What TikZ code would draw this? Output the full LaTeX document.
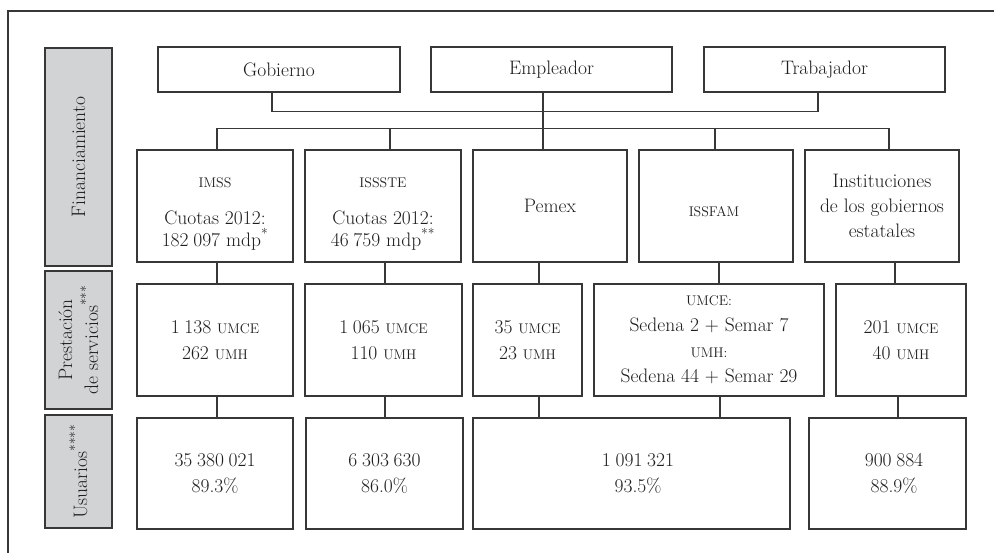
\documentclass[tikz,border=0pt]{standalone}
\usepackage{fontspec}
\definecolor{linecol}{RGB}{55,55,55}
\definecolor{txtcol}{RGB}{30,30,30}
\definecolor{labgray}{RGB}{210,211,213}
\newcommand\scx[1]{{\fontsize{14}{14}\selectfont #1}}
\newcommand\gs{\hspace{0.24em}}
\tikzset{
  bx/.style={draw=linecol, line width=1.2pt, fill=white, inner sep=0pt, align=center, text=txtcol, font=\fontsize{19.5}{26}\selectfont},
  lab/.style={bx, fill=labgray},
  txt/.style={inner sep=0pt, align=center, text=txtcol, font=\fontsize{19.5}{22}\selectfont},
  conn/.style={draw=linecol, line width=1.2pt},
  frame/.style={draw=linecol, line width=1.3pt},
}
\begin{document}
\begin{tikzpicture}[x=1pt,y=-1pt]
\useasboundingbox (0,0) rectangle (994,553);
\draw[frame] (8,560) -- (8,11) -- (1000,11);

% side labels
\node[lab, rotate=90, minimum width=218pt, minimum height=67pt] (fin) at (78.5,157) {Financiamiento};
\node[lab, rotate=90, minimum width=138pt, minimum height=67pt] (pres) at (78.5,340) {Prestación\\de servicios\textsuperscript{***}};
\node[lab, rotate=90, minimum width=113pt, minimum height=67pt] (usu) at (78.5,471.5) {Usuarios\textsuperscript{****}};

% top row
\node[bx, minimum width=242pt, minimum height=45pt] (gob) at (279,69.5) {Gobierno};
\node[bx, minimum width=241pt, minimum height=45pt] (emp) at (551.5,69.5) {Empleador};
\node[bx, minimum width=241pt, minimum height=45pt] (trab) at (824.5,69.5) {Trabajador};

% row 2
\node[bx, minimum width=156pt, minimum height=112pt] (imss2) at (215,206) {};
\node[txt] (imss2t) at (215,213.6) {\scx{IMSS}\\[15pt]Cuotas 2012:\\182\gs 097 mdp\textsuperscript{*}};
\node[bx, minimum width=156pt, minimum height=112pt] (issste2) at (383,206) {};
\node[txt] (issste2t) at (383,213.6) {\scx{ISSSTE}\\[15pt]Cuotas 2012:\\46\gs 759 mdp\textsuperscript{**}};
\node[bx, minimum width=154pt, minimum height=112pt] (pemex2) at (550,206) {Pemex};
\node[bx, minimum width=154pt, minimum height=112pt] (issfam2) at (716,206) {};
\node[txt] (issfam2t) at (714,212) {\scx{ISSFAM}};
\node[bx, minimum width=154pt, minimum height=112pt, font=\fontsize{19.5}{25}\selectfont] (inst2) at (882,206) {Instituciones\\de los gobiernos\\estatales};

% row 3
\node[bx, minimum width=156pt, minimum height=112pt] (imss3) at (215,340) {1\gs 138 \scx{UMCE}\\262 \scx{UMH}};
\node[bx, minimum width=157pt, minimum height=112pt] (issste3) at (383.5,340) {1\gs 065 \scx{UMCE}\\110 \scx{UMH}};
\node[bx, minimum width=109pt, minimum height=112pt] (pemex3) at (527.5,340) {35 \scx{UMCE}\\23 \scx{UMH}};
\node[bx, minimum width=230pt, minimum height=112pt, font=\fontsize{19.5}{25.7}\selectfont] (issfam3) at (709,340) {\scx{UMCE:}\\Sedena 2 + Semar 7\\\scx{UMH:}\\Sedena 44 + Semar 29};
\node[bx, minimum width=130pt, minimum height=112pt] (inst3) at (901,340) {201 \scx{UMCE}\\40 \scx{UMH}};

% row 4
\node[bx, minimum width=156pt, minimum height=111pt] (imss4) at (215,473.5) {35\gs 380\gs 021\\89.3\%};
\node[bx, minimum width=157pt, minimum height=111pt] (issste4) at (384.5,473.5) {6\gs 303\gs 630\\86.0\%};
\node[bx, minimum width=317pt, minimum height=111pt] (pi4) at (631.5,473.5) {\hspace{13pt}1\gs 091\gs 321\\\hspace{13pt}93.5\%};
\node[bx, minimum width=157pt, minimum height=111pt] (inst4) at (887.5,473.5) {\hspace{13pt}900\gs 884\\\hspace{13pt}88.9\%};

% connectors: top
\draw[conn] ([xshift=-7pt]gob.south) -- ++(0,19) -| ([xshift=-6.5pt]trab.south);
\draw[conn] ([xshift=-8.5pt]emp.south) -- ([xshift=-7pt]pemex2.north);
\draw[conn] ([xshift=2pt]imss2.north) -- ++(0,-21) -| ([xshift=7pt]inst2.north);
\draw[conn] ([xshift=7pt]issste2.north) -- ++(0,-21);
\draw[conn] ([xshift=-1pt]issfam2.north) -- ++(0,-21);

% row 2 -> row 3
\draw[conn] ([xshift=2pt]imss2.south) -- ([xshift=2pt]imss3.north);
\draw[conn] ([xshift=2pt]issste2.south) -- ([xshift=1.5pt]issste3.north);
\draw[conn] ([xshift=-11pt]pemex2.south) -- ([xshift=11.5pt]pemex3.north);
\draw[conn] ([xshift=3pt]issfam2.south) -- ([xshift=10pt]issfam3.north);
\draw[conn] ([xshift=13pt]inst2.south) -- ([xshift=-6pt]inst3.north);

% row 3 -> row 4
\draw[conn] ([xshift=2pt]imss3.south) -- ([xshift=2pt]imss4.north);
\draw[conn] ([xshift=1.5pt]issste3.south) -- ([xshift=0.5pt]issste4.north);
\draw[conn] ([xshift=11.5pt]pemex3.south) -- ([xshift=-92.5pt]pi4.north);
\draw[conn] ([xshift=11pt]issfam3.south) -- ([xshift=88.5pt]pi4.north);
\draw[conn] ([xshift=-3pt]inst3.south) -- ([xshift=10.5pt]inst4.north);
\end{tikzpicture}
\end{document}
